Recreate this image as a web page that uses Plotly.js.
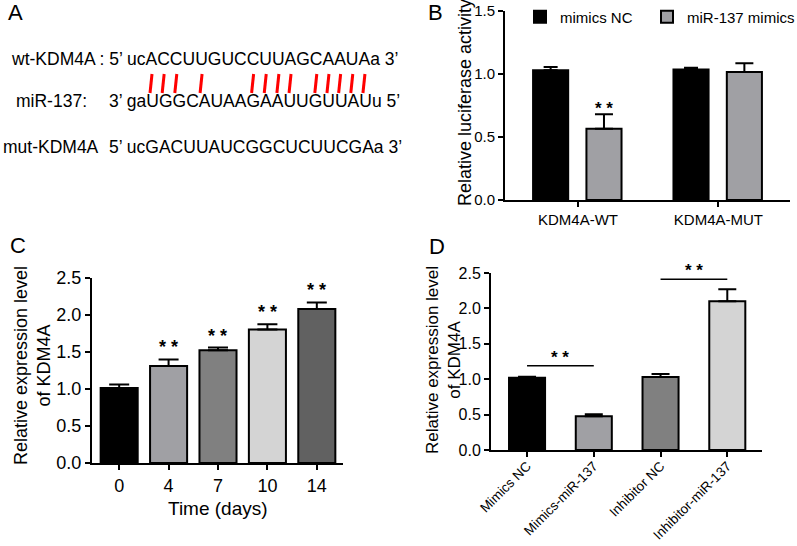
<!DOCTYPE html>
<html>
<head>
<meta charset="utf-8">
<script src="https://cdn.plot.ly/plotly-3.0.1.min.js"></script>
<style>
  html, body { margin: 0; padding: 0; background: #fff; }
  #chart { width: 797px; height: 546px; }
</style>
</head>
<body>
<div id="chart"></div>
<script>
// ---- Panel A: binding site sequences ----
const wtLine = 'wt-KDM4A : 5’ ucACCUUGUCCUUAGCAAUAa 3’';
const wtSeqStart = 'wt-KDM4A : 5’ '.length;
const mirLabel = 'miR-137:';
const mirSeq = '3’ gaUGGCAUAAGAAUUGUUAUu 5’';
const mutLabel = 'mut-KDM4A';
const mutSeq = '5’ ucGACUUAUCGGCUCUUCGAa 3’';
const pairedIdx = [2, 3, 4, 6, 10, 11, 12, 13, 15, 16, 17, 18, 19];

// ---- Panel B: luciferase assay ----
const lucCats = ['KDM4A-WT', 'KDM4A-MUT'];
const lucNC = [1.03, 1.035];
const lucNCErr = [0.026, 0.015];
const lucMimic = [0.565, 1.015];
const lucMimicErr = [0.115, 0.07];
const lucMimicSig = ['* *', ''];

// ---- Panel C: time course ----
const days = ['0', '4', '7', '10', '14'];
const dayExpr = [1.015, 1.31, 1.525, 1.805, 2.08];
const dayErr = [0.045, 0.09, 0.035, 0.07, 0.09];
const daySig = ['', '* *', '* *', '* *', '* *'];
const dayColors = ['#000000', '#a0a0a4', '#808080', '#d4d4d4', '#616161'];

// ---- Panel D: mimics / inhibitor ----
const groups = ['Mimics NC', 'Mimics-miR-137', 'Inhibitor NC', 'Inhibitor-miR-137'];
const groupExpr = [1.02, 0.475, 1.03, 2.10];
const groupErr = [0.015, 0.03, 0.045, 0.17];
const groupColors = ['#000000', '#a0a0a4', '#808080', '#d4d4d4'];
const sigFrom = [0, 2];
const sigTo = [1, 3];
const sigLevel = [1.19, 2.41];

const W = 797, H = 546;
const px = x => x / W;
const py = y => 1 - y / H;
const FONT = 'Arial, "Liberation Sans", sans-serif';
const SEQ_SIZE = 17.5;

const ctx = document.createElement('canvas').getContext('2d');
ctx.font = SEQ_SIZE + 'px Arial, "Liberation Sans", sans-serif';
const textW = s => ctx.measureText(s).width;

function axisStyle(extra) {
  return Object.assign({
    showline: true, linecolor: '#000', linewidth: 2,
    ticks: 'outside', ticklen: 5, tickwidth: 2, tickcolor: '#000',
    showgrid: false, zeroline: false, fixedrange: true,
    tickfont: { family: FONT, size: 15, color: '#000' }
  }, extra);
}

// upward-only error bars, as drawn by Prism
function upErr(arr, w) {
  return { type: 'data', symmetric: false, array: arr, arrayminus: arr.map(() => 0),
           color: '#000', thickness: 2, width: w };
}

function legendBox(x) {
  return {
    orientation: 'h', x: px(x), xanchor: 'left', y: py(17), yanchor: 'middle',
    font: { family: FONT, size: 15, color: '#000' }, bgcolor: 'rgba(0,0,0,0)'
  };
}

const traces = [
  {
    type: 'bar', name: 'mimics NC', x: lucCats, y: lucNC, xaxis: 'x', yaxis: 'y',
    width: 0.25, offset: -0.32, legend: 'legend',
    marker: { color: '#000', line: { color: '#000', width: 2 } },
    error_y: upErr(lucNCErr, 7)
  },
  {
    type: 'bar', name: 'miR-137 mimics', x: lucCats, y: lucMimic, xaxis: 'x', yaxis: 'y',
    width: 0.25, offset: 0.06, legend: 'legend2',
    marker: { color: '#a0a0a4', line: { color: '#000', width: 2 } },
    error_y: upErr(lucMimicErr, 9)
  },
  {
    type: 'bar', x: days, y: dayExpr, xaxis: 'x2', yaxis: 'y2', width: 0.75, showlegend: false,
    marker: { color: dayColors, line: { color: '#000', width: 2 } },
    error_y: upErr(dayErr, 10)
  },
  {
    type: 'bar', x: groups, y: groupExpr, xaxis: 'x3', yaxis: 'y3', width: 0.54, showlegend: false,
    marker: { color: groupColors, line: { color: '#000', width: 2 } },
    error_y: upErr(groupErr, 9)
  }
];

const annotations = [];
const shapes = [];

function note(text, x, y, size, extra) {
  annotations.push(Object.assign({
    text: text, x: px(x), y: py(y), xref: 'paper', yref: 'paper', showarrow: false,
    xanchor: 'center', yanchor: 'middle', font: { family: FONT, size: size, color: '#000' }
  }, extra));
}

// panel letters
note('A', 16, 12, 22);
note('B', 436, 12, 22);
note('C', 18, 246, 22);
note('D', 437, 247, 22);

// panel A text
note(wtLine, 9, 59, SEQ_SIZE, { xanchor: 'left' });
note(mirLabel, 14, 101, SEQ_SIZE, { xanchor: 'left' });
note(mirSeq, 107, 101, SEQ_SIZE, { xanchor: 'left' });
note(mutLabel, 1, 147, SEQ_SIZE, { xanchor: 'left' });
note(mutSeq, 107, 147, SEQ_SIZE, { xanchor: 'left' });

// pairing marks under the wt sequence
pairedIdx.forEach(i => {
  const k = wtSeqStart + i;
  const cx = 10 + textW(wtLine.slice(0, k)) + textW(wtLine[k]) / 2;
  shapes.push({
    type: 'line', xref: 'paper', yref: 'paper',
    x0: px(cx - 1), y0: py(93), x1: px(cx + 1), y1: py(74),
    line: { color: '#ff0000', width: 3 }
  });
});

// axis titles
note('Relative luciferase activity', 465, 103, 18, { textangle: -90 });
note('Relative expression level<br>of KDM4A', 32, 366, 18, { textangle: -90 });
note('Time (days)', 218, 508, 19);
note('Relative expression level<br>of KDM4A', 443, 360, 17, { textangle: -90 });

// significance stars
lucMimicSig.forEach((s, i) => {
  if (!s) return;
  annotations.push({ text: s, x: i + 0.185, y: lucMimic[i] + lucMimicErr[i], xref: 'x', yref: 'y',
    showarrow: false, yanchor: 'bottom', yshift: -6, font: { family: FONT, size: 17, color: '#000', weight: 'bold' } });
});
daySig.forEach((s, i) => {
  if (!s) return;
  annotations.push({ text: s, x: i, y: dayExpr[i] + dayErr[i], xref: 'x2', yref: 'y2',
    showarrow: false, yanchor: 'bottom', yshift: 0, font: { family: FONT, size: 18, color: '#000', weight: 'bold' } });
});
sigFrom.forEach((f, i) => {
  shapes.push({ type: 'line', xref: 'x3', yref: 'y3', x0: groups[f], x1: groups[sigTo[i]],
    y0: sigLevel[i], y1: sigLevel[i], line: { color: '#000', width: 1.5 } });
  annotations.push({ text: '* *', x: (f + sigTo[i]) / 2, y: sigLevel[i], xref: 'x3', yref: 'y3',
    showarrow: false, yanchor: 'bottom', yshift: -3, font: { family: FONT, size: 17, color: '#000', weight: 'bold' } });
});

const layout = {
  width: W, height: H, autosize: false,
  margin: { l: 0, r: 0, t: 0, b: 0, autoexpand: false },
  paper_bgcolor: '#fff', plot_bgcolor: '#fff',
  font: { family: FONT, color: '#000' },
  barmode: 'overlay',
  xaxis: axisStyle({ domain: [px(505), px(790)], range: [-0.52, 1.51], anchor: 'y', type: 'category' }),
  yaxis: axisStyle({ domain: [py(200), py(11)], range: [0, 1.5], dtick: 0.5, tickformat: '.1f', anchor: 'x' }),
  xaxis2: axisStyle({ domain: [px(92), px(343)], range: [-0.55, 4.53], anchor: 'y2', type: 'category',
                      tickfont: { family: FONT, size: 18, color: '#000' } }),
  yaxis2: axisStyle({ domain: [py(463), py(278)], range: [0, 2.5], dtick: 0.5, tickformat: '.1f', anchor: 'x2',
                      tickfont: { family: FONT, size: 18, color: '#000' } }),
  xaxis3: axisStyle({ domain: [px(491), px(762)], range: [-0.54, 3.52], anchor: 'y3', type: 'category',
                      tickangle: -45, ticklabelstandoff: -4, tickfont: { family: FONT, size: 13.5, color: '#000' } }),
  yaxis3: axisStyle({ domain: [py(450), py(273)], range: [0, 2.5], dtick: 0.5, tickformat: '.1f', anchor: 'x3',
                      tickfont: { family: FONT, size: 16, color: '#000' } }),
  showlegend: true,
  legend: legendBox(520),
  legend2: legendBox(647),
  annotations: annotations,
  shapes: shapes
};

Plotly.newPlot('chart', traces, layout, { staticPlot: true, displayModeBar: false });
</script>
</body>
</html>
